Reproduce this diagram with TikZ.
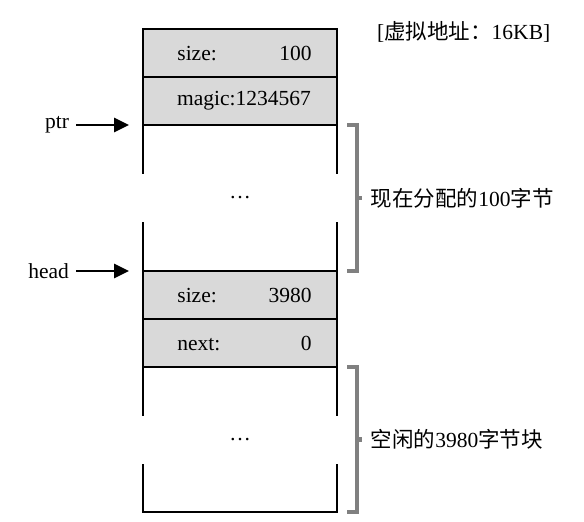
\documentclass[tikz,border=0pt]{standalone}
\usepackage{fontspec}
\setmainfont{Liberation Serif}
\newfontfamily\cjk{Noto Sans CJK SC}
\usetikzlibrary{positioning,arrows.meta}
\begin{document}
\begin{tikzpicture}[x=0.5pt,y=-0.5pt,
    font=\fontsize{10.75}{13}\selectfont,
    hdr/.style={draw,line width=0.8pt,fill=black!15,minimum width=97pt,minimum height=24pt,inner sep=0pt,outer sep=0pt},
    body/.style={minimum width=97pt,minimum height=73pt,inner sep=0pt,outer sep=0pt},
    field/.style={inner sep=0pt},
    wall/.style={line width=0.8pt},
    ptrarrow/.style={line width=1.4pt,-{Triangle[length=7.5pt,width=7pt]}},
    brace/.style={line width=2.2pt,draw=black!50}]
    \useasboundingbox (0,0) rectangle (584,521);
    \node[hdr] (size1) at (240,53) {};
    \node[hdr,below=0pt of size1] (magic) {\hspace{4pt}magic:1234567};
    \node[body,below=0pt of magic] (used) {\dots};
    \node[hdr,below=0pt of used] (size2) {};
    \node[hdr,below=0pt of size2] (next) {};
    \node[body,below=0pt of next,minimum height=72.5pt] (free) {\dots};

    \node[field,anchor=base west] (s1key) at ([xshift=17pt,yshift=-3.6pt]size1.west) {size:};
    \node[field,anchor=base east] (s1val) at ([xshift=-12.5pt,yshift=-3.6pt]size1.east) {100};
    \node[field,anchor=base west] (s2key) at ([xshift=17pt,yshift=-3.6pt]size2.west) {size:};
    \node[field,anchor=base east] (s2val) at ([xshift=-12.5pt,yshift=-3.6pt]size2.east) {3980};
    \node[field,anchor=base west] (nkey) at ([xshift=17pt,yshift=-3.6pt]next.west) {next:};
    \node[field,anchor=base east] (nval) at ([xshift=-12.5pt,yshift=-3.6pt]next.east) {0};

    \draw[wall] (used.north west) -- ++(0,49) (used.north east) -- ++(0,49);
    \draw[wall] (used.south west) -- ++(0,-49) (used.south east) -- ++(0,-49);
    \draw[wall] (free.north west) -- ++(0,49) (free.north east) -- ++(0,49);
    \draw[wall] ([yshift=24pt]free.south west) -- (free.south west) -- (free.south east) -- ++(0,-48);

    \node[left=33.5pt of used.north west] (ptr) {ptr};
    \draw[ptrarrow] (ptr) -- ([xshift=-7pt]used.north west);
    \node[left=33.5pt of size2.north west] (head) {head};
    \draw[ptrarrow] (head) -- ([xshift=-7pt]size2.north west);

    \draw[brace] ([xshift=5pt]used.north east) -| ([xshift=10pt]used.south east) -- ([xshift=5pt]used.south east);
    \draw[brace] ([xshift=10pt]used.east) -- ++(5,0) node[right,black] (usedlbl) {{\cjk 现在分配的}100{\cjk 字节}};
    \draw[brace] ([xshift=5pt]free.north east) -| ([xshift=10pt]free.south east) -- ([xshift=5pt]free.south east);
    \draw[brace] ([xshift=10pt]free.east) -- ++(5,0) node[right,black] (freelbl) {{\cjk 空闲的}3980{\cjk 字节块}};

    \node[anchor=west] (vaddr) at (370,32) {{[}{\cjk 虚拟地址：}16KB{]}};
\end{tikzpicture}
\end{document}
